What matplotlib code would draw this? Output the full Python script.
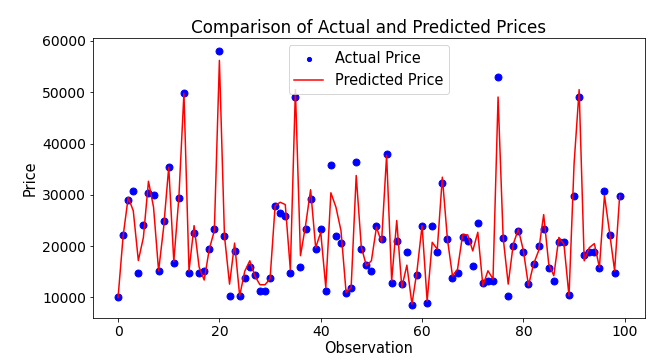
import numpy as np
import matplotlib
matplotlib.use('Agg')
from matplotlib import pyplot as plt

# valores (obs 0..99)
actual = [10000, 22250, 28900, 30700, 14800, 24200, 30450, 29900, 15150, 24900,
          35400, 16800, 29400, 49900, 14800, 22600, 14800, 15150, 19400, 23350,
          58050, 21900, 10330, 19000, 10330, 13700, 15860, 14430, 11170, 11300,
          13850, 27900, 26400, 25900, 14800, 49060, 15860, 23350, 29150, 19400,
          23350, 11300, 35900, 21900, 20700, 10850, 11800, 36370, 19400, 16400,
          15200, 23870, 21330, 37930, 12870, 20960, 12540, 18800, 8500, 14370,
          23870, 8900, 23870, 18800, 32340, 21330, 13700, 14760, 21700, 20960,
          16130, 24600, 12800, 13260, 13260, 52900, 21660, 10330, 19960, 22970,
          18800, 12540, 16580, 19960, 23350, 15800, 13260, 20800, 20800, 10530,
          29860, 49000, 18340, 18800, 18800, 15800, 30840, 22200, 14800, 29860]

predicted = [10000, 22000, 29500, 26900, 17200, 21700, 32650, 27600, 15200, 23700,
             35400, 17000, 29500, 49800, 15200, 24000, 15900, 13400, 19400, 23000,
             56200, 22000, 12600, 20600, 10300, 15100, 17150, 14200, 12480, 12480,
             13650, 27900, 28550, 28100, 15400, 50500, 18150, 24000, 31000, 19700,
             22700, 11950, 30400, 27600, 23000, 11000, 11950, 33770, 19900, 16200,
             17150, 23700, 20750, 37700, 13250, 25000, 11950, 16300, 8700, 15200,
             24000, 9300, 20750, 19400, 33440, 21400, 14200, 15500, 22200, 22200,
             19080, 22700, 12280, 15200, 13600, 49060, 21700, 12600, 20400, 23300,
             19100, 12300, 16500, 19100, 26150, 16500, 14250, 21700, 20400, 10300,
             36050, 50500, 17150, 19700, 20500, 15860, 29860, 22700, 15200, 29860]

obs = np.arange(len(actual))

plt.rcParams['font.size'] = 14.5
plt.rcParams['xtick.labelsize'] = 14
plt.rcParams['ytick.labelsize'] = 14
fig, ax = plt.subplots(figsize=(9, 5), dpi=72)
fig.subplots_adjust(left=0.1435, right=0.995, top=0.894, bottom=0.117)

ax.scatter(obs, actual, color='blue', s=48, label='Actual Price', zorder=2)
ax.plot(obs, predicted, color='red', lw=1.5, label='Predicted Price', zorder=3)

ax.set_title('Comparison of Actual and Predicted Prices', fontsize=16.8, pad=5)
ax.set_xlabel('Observation', labelpad=2)
ax.set_ylabel('Price')
ax.legend(loc='upper center', markerscale=0.6)

plt.savefig('out.png')
